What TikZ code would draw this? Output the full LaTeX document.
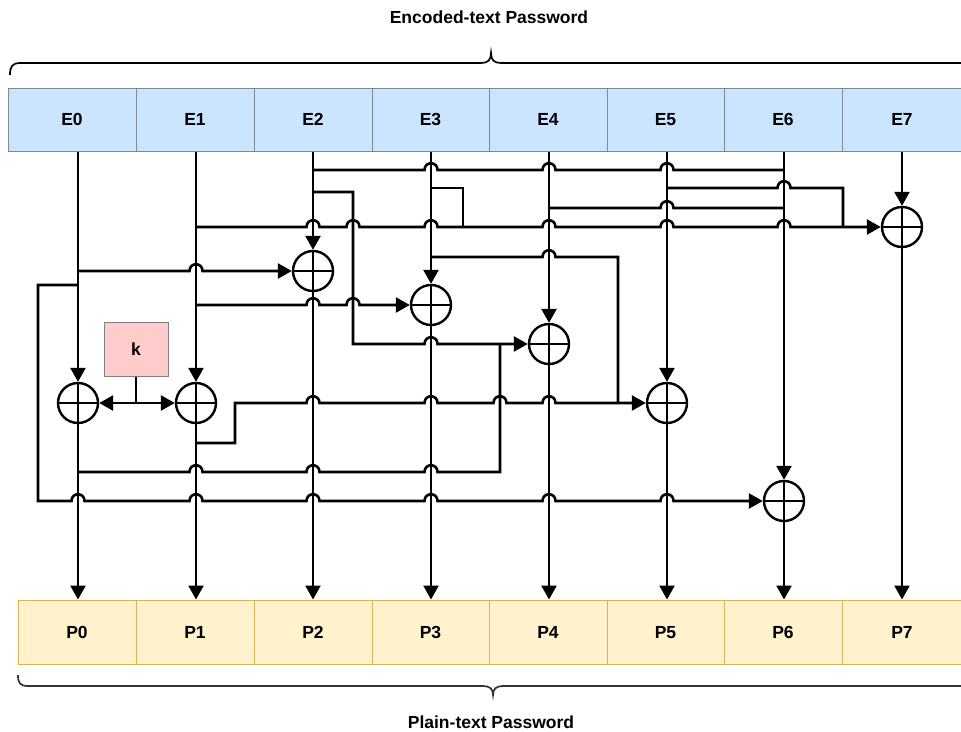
\documentclass[tikz,border=0pt]{standalone}
\usepackage{fontspec}
\setmainfont{Liberation Sans}
\usetikzlibrary{arrows.meta}
\definecolor{eblue}{HTML}{CCE5FF}
\definecolor{eedge}{HTML}{7F8A99}
\definecolor{pyel}{HTML}{FFF2CC}
\definecolor{pedge}{HTML}{D6B656}
\definecolor{kred}{HTML}{FFCCCC}
\definecolor{kedge}{HTML}{808080}
\newcommand\hp[2]{-- (#1-6.5,#2) .. controls (#1-6.5,#2-9) and (#1+6.5,#2-9) .. (#1+6.5,#2)}
\begin{document}
\begin{tikzpicture}[x=1pt,y=-1pt,
  wire/.style={line width=2.6pt,black},
  arr/.style={wire,-{Triangle[length=14pt,width=15pt]}},
  lbl/.style={font=\bfseries\fontsize{17.5}{20}\selectfont},
  cell/.style={inner sep=0pt,lbl,text height=12.5pt,text depth=0pt},
  ecell/.style={cell,draw=eedge,fill=eblue,line width=1pt,minimum height=63pt},
  pcell/.style={cell,draw=pedge,fill=pyel,line width=1pt,minimum height=64pt},
  kbox/.style={cell,draw=kedge,fill=kred,line width=1pt,minimum width=64pt,minimum height=54pt},
  xor/.style={circle,draw,line width=2.4pt,minimum size=40pt,inner sep=0pt,
    path picture={\draw[line width=2.4pt] (path picture bounding box.north)--(path picture bounding box.south)
      (path picture bounding box.west)--(path picture bounding box.east);}},
  brace/.style={line width=1.7pt}]
\useasboundingbox (0,0) rectangle (961,731);
% text
\node[lbl] (title) at (489,17) {Encoded-text Password};
\node[lbl] (sub) at (491,722) {Plain-text Password};
% braces
\draw[brace] (10,75) .. controls (10,67) and (12,63) .. (20,63) -- (481,63)
  .. controls (488,63) and (491,60) .. (491,53) .. controls (491,60) and (494,63) .. (501,63) -- (968,63);
\draw[brace,draw=black!80] (18,675) .. controls (18,683) and (20,686) .. (28,686) -- (483,686)
  .. controls (490,686) and (493,689) .. (493,695) .. controls (493,689) and (496,686) .. (503,686) -- (968,686);
% E cells
\node[ecell,minimum width=128pt] (E0) at (72,119.5) {E0};
\node[ecell,minimum width=118pt] (E1) at (195,119.5) {E1};
\node[ecell,minimum width=118pt] (E2) at (313,119.5) {E2};
\node[ecell,minimum width=117pt] (E3) at (430.5,119.5) {E3};
\node[ecell,minimum width=118pt] (E4) at (548,119.5) {E4};
\node[ecell,minimum width=117pt] (E5) at (665.5,119.5) {E5};
\node[ecell,minimum width=118pt] (E6) at (783,119.5) {E6};
\node[ecell,minimum width=120pt] (E7) at (902,119.5) {E7};
% P cells
\node[pcell,minimum width=118pt] (P0) at (77,632) {P0};
\node[pcell,minimum width=118pt] (P1) at (195,632) {P1};
\node[pcell,minimum width=118pt] (P2) at (313,632) {P2};
\node[pcell,minimum width=117pt] (P3) at (430.5,632) {P3};
\node[pcell,minimum width=118pt] (P4) at (548,632) {P4};
\node[pcell,minimum width=117pt] (P5) at (665.5,632) {P5};
\node[pcell,minimum width=118pt] (P6) at (783,632) {P6};
\node[pcell,minimum width=120pt] (P7) at (902,632) {P7};
% key
\node[kbox] (k) at (136,349) {k};
% XOR gates
\node[xor] (X0) at (78,403) {};
\node[xor] (X1) at (196,403) {};
\node[xor] (X2) at (313,271) {};
\node[xor] (X3) at (431,305) {};
\node[xor] (X4) at (549,344) {};
\node[xor] (X5) at (667,403) {};
\node[xor] (X6) at (784,501) {};
\node[xor] (X7) at (902,227) {};
% columns
\foreach \i in {0,...,7}{
  \draw[arr] (E\i.south -| X\i) -- (X\i);
  \draw[arr] (X\i) -- (P\i.north -| X\i);
}
% cross wires
\draw[wire] (313,170) \hp{431}{170} \hp{549}{170} \hp{667}{170} -- (784,170);
\draw[wire] (431,188) -- (463,188) -- (463,227);
\draw[wire] (667,188) \hp{784}{188} -- (843,188) -- (843,227);
\draw[wire] (549,208) \hp{667}{208} -- (784,208);
\draw[arr] (313,192) -- (353,192) -- (353,344) \hp{431}{344} -- (X4);
\draw[arr] (196,227) \hp{313}{227} \hp{353}{227} \hp{431}{227} \hp{549}{227} \hp{667}{227} \hp{784}{227} -- (X7);
\draw[wire] (431,257) \hp{549}{257} -- (618,257) -- (618,403);
\draw[arr] (78,271) \hp{196}{271} -- (X2);
\draw[arr] (78,285) -- (38,285) -- (38,501) \hp{78}{501} \hp{196}{501} \hp{313}{501} \hp{431}{501} \hp{549}{501} \hp{667}{501} -- (X6);
\draw[arr] (196,305) \hp{313}{305} \hp{353}{305} -- (X3);
\draw[wire] (k.south) -- (136,403) coordinate (ks);
\draw[arr] (ks) -- (X0);
\draw[arr] (ks) -- (X1);
\draw[arr] (196,443) -- (235,443) -- (235,403) \hp{313}{403} \hp{431}{403} \hp{500}{403} \hp{549}{403} -- (X5);
\draw[wire] (78,472) \hp{196}{472} \hp{313}{472} \hp{431}{472} -- (500,472) -- (500,344);
\end{tikzpicture}
\end{document}
